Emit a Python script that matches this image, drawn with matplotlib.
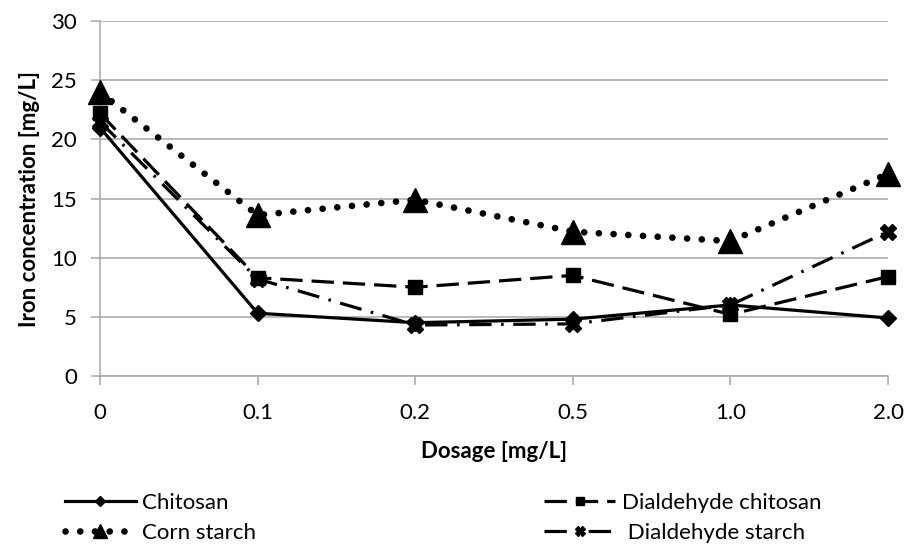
import matplotlib
matplotlib.use("Agg")
import matplotlib.pyplot as plt

plt.rcParams["font.family"] = ["Lato", "DejaVu Sans"]

dosage = ["0", "0.1", "0.2", "0.5", "1.0", "2.0"]
chitosan = [21.0, 5.3, 4.5, 4.8, 6.0, 4.9]
dialdehyde_chitosan = [22.2, 8.3, 7.5, 8.5, 5.2, 8.4]
corn_starch = [24.0, 13.6, 14.9, 12.2, 11.4, 17.1]
dialdehyde_starch = [21.5, 8.2, 4.3, 4.4, 6.0, 12.2]

grid_col = "#a6a6a6"
fs = 16

fig = plt.figure(figsize=(9.09, 5.44), dpi=100)
ax = fig.add_axes([0.110, 0.309, 0.867, 0.652])
x = range(len(dosage))

l1, = ax.plot(x, chitosan, color="black", lw=2.3, marker="D", ms=8,
              label="Chitosan", clip_on=False, zorder=5)
l2, = ax.plot(x, dialdehyde_chitosan, color="black", lw=2.3, marker="s", ms=10,
              dashes=(7, 2.8), label="Dialdehyde chitosan", clip_on=False, zorder=4)
l3, = ax.plot(x, corn_starch, color="black", lw=4.8, marker="^", ms=17,
              dashes=(0.01, 2.2), dash_capstyle="round",
              label="Corn starch", clip_on=False, zorder=3)
l4, = ax.plot(x, dialdehyde_starch, color="black", lw=2.3, marker="X", ms=11,
              dashes=(7, 3, 0.8, 3), label=" Dialdehyde starch",
              clip_on=False, zorder=4)

ax.set_xlim(0, len(dosage) - 1)
ax.set_ylim(0, 30)
ax.set_yticks(range(0, 31, 5))
ax.set_xticks(list(x))
ax.set_xticklabels(dosage)
ax.yaxis.grid(True, color=grid_col, lw=1.1)
ax.set_axisbelow(True)
for s in ["top", "right"]:
    ax.spines[s].set_visible(False)
for s in ["left", "bottom"]:
    ax.spines[s].set_color(grid_col)
    ax.spines[s].set_linewidth(1.1)
ax.tick_params(axis="both", colors=grid_col, labelcolor="black",
               labelsize=fs, length=6.5, width=1.1)
ax.tick_params(axis="y", pad=10)
ax.tick_params(axis="x", pad=13)

ax.set_xlabel("Dosage [mg/L]", fontsize=fs, fontweight="bold", labelpad=13)
ax.set_ylabel("Iron concentration [mg/L]", fontsize=fs, fontweight="bold", labelpad=8)

fig.legend(handles=[l1, l3, l2, l4], ncol=2, frameon=False, fontsize=fs,
           loc="upper left", bbox_to_anchor=(0.071, 0.094),
           handlelength=3.2, handletextpad=0.3, columnspacing=12.95,
           labelspacing=0.46, borderaxespad=0, borderpad=0, markerscale=0.6)

fig.savefig("out.png", dpi=100)
